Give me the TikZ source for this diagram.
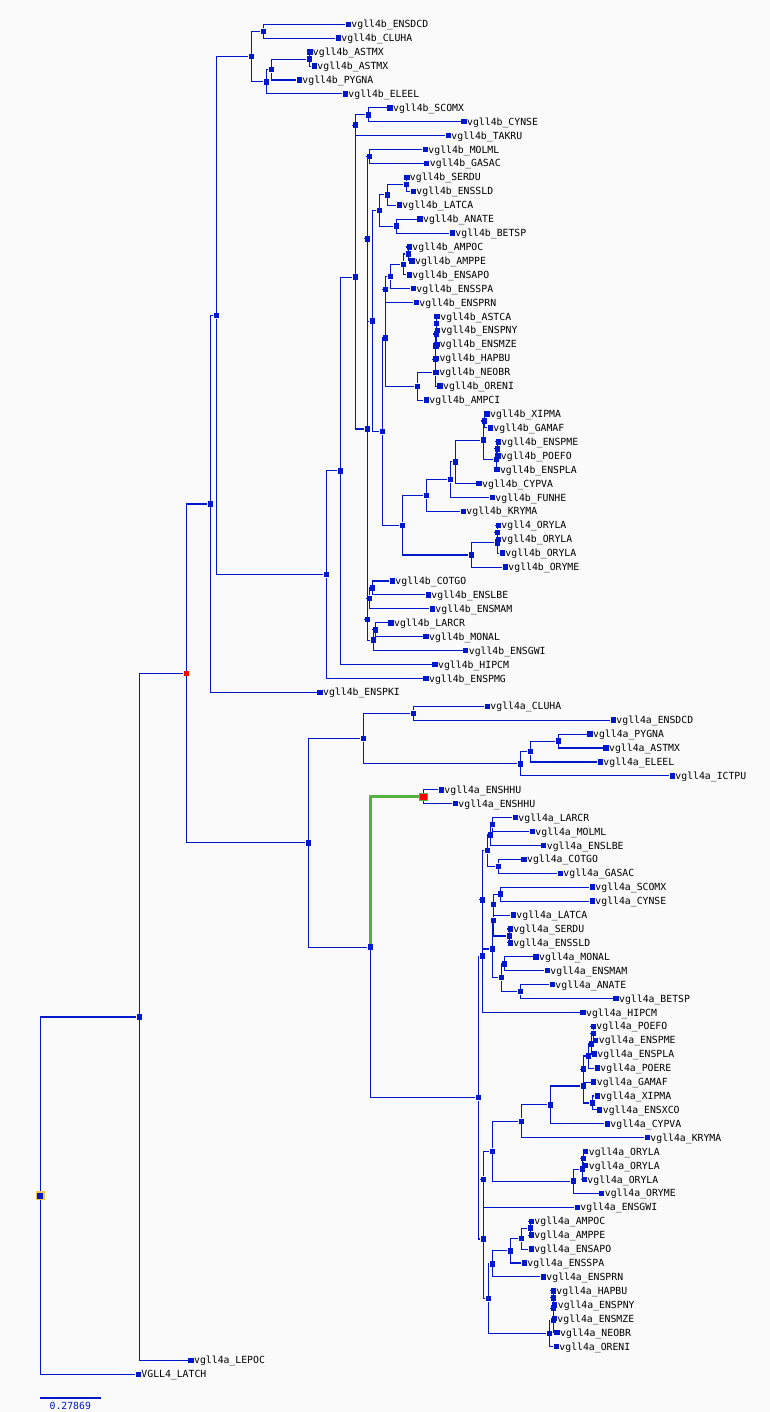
\documentclass[tikz,border=0pt]{standalone}
\usepackage{fontspec}
\newfontfamily\namefont{DejaVu Sans Mono}
\usepackage{tikz}
\definecolor{treeblue}{RGB}{0,24,204}
\definecolor{pickgreen}{RGB}{84,178,66}
\definecolor{rootgold}{RGB}{240,200,80}
\definecolor{paper}{RGB}{250,250,250}
\tikzstyle{Split} = [rectangle, minimum size = 5.5pt, inner sep = 0pt, fill = treeblue]
\tikzstyle{Leaf} = [Split, label distance = 4.3pt]
\tikzstyle{Hot} = [Split, fill = red]
\tikzstyle{Name} = [inner sep = 0pt, text height = 7pt, text depth = 0pt, text = black, font = {\namefont\fontsize{9.8pt}{10pt}\selectfont}]
\tikzstyle{Branch} = [treeblue, line width = 1.1pt]
\tikzstyle{Picked} = [pickgreen, line width = 3pt]

\begin{document}
\begin{tikzpicture}[x=1pt, y=-1pt]

    \fill[paper] (0,0) rectangle (770,1412);
    \useasboundingbox (0,0) rectangle (770,1412);

    %%%%%%%%%%%%%%%%%%%%%%
    % vgll4b leaves
    \node[Leaf, label={[Name]right:vgll4b\_ENSDCD}] (bENSDCD) at (348.3,24.3) {};
    \node[Leaf, label={[Name]right:vgll4b\_CLUHA}] (bCLUHA) at (338.3,38.2) {};
    \node[Leaf, label={[Name]right:vgll4b\_ASTMX}] (bASTMX) at (309.8,52.1) {};
    \node[Leaf, label={[Name]right:vgll4b\_ASTMX}] (bASTMXb) at (314.3,66.1) {};
    \node[Leaf, label={[Name]right:vgll4b\_PYGNA}] (bPYGNA) at (299.3,80.0) {};
    \node[Leaf, label={[Name]right:vgll4b\_ELEEL}] (bELEEL) at (345.3,93.9) {};
    \node[Leaf, label={[Name]right:vgll4b\_SCOMX}] (bSCOMX) at (390,107.8) {};
    \node[Leaf, label={[Name]right:vgll4b\_CYNSE}] (bCYNSE) at (464,121.7) {};
    \node[Leaf, label={[Name]right:vgll4b\_TAKRU}] (bTAKRU) at (448.3,135.6) {};
    \node[Leaf, label={[Name]right:vgll4b\_MOLML}] (bMOLML) at (425.3,149.6) {};
    \node[Leaf, label={[Name]right:vgll4b\_GASAC}] (bGASAC) at (426.7,163.5) {};
    \node[Leaf, label={[Name]right:vgll4b\_SERDU}] (bSERDU) at (406.8,177.4) {};
    \node[Leaf, label={[Name]right:vgll4b\_ENSSLD}] (bENSSLD) at (413.3,191.3) {};
    \node[Leaf, label={[Name]right:vgll4b\_LATCA}] (bLATCA) at (399.3,205.2) {};
    \node[Leaf, label={[Name]right:vgll4b\_ANATE}] (bANATE) at (420,219.2) {};
    \node[Leaf, label={[Name]right:vgll4b\_BETSP}] (bBETSP) at (452.3,233.1) {};
    \node[Leaf, label={[Name]right:vgll4b\_AMPOC}] (bAMPOC) at (409.3,247.0) {};
    \node[Leaf, label={[Name]right:vgll4b\_AMPPE}] (bAMPPE) at (412,260.9) {};
    \node[Leaf, label={[Name]right:vgll4b\_ENSAPO}] (bENSAPO) at (409.3,274.8) {};
    \node[Leaf, label={[Name]right:vgll4b\_ENSSPA}] (bENSSPA) at (413.3,288.7) {};
    \node[Leaf, label={[Name]right:vgll4b\_ENSPRN}] (bENSPRN) at (416.3,302.7) {};
    \node[Leaf, label={[Name]right:vgll4b\_ASTCA}] (bASTCA) at (437.2,316.6) {};
    \node[Leaf, label={[Name]right:vgll4b\_ENSPNY}] (bENSPNY) at (437.6,330.5) {};
    \node[Leaf, label={[Name]right:vgll4b\_ENSMZE}] (bENSMZE) at (436.8,344.4) {};
    \node[Leaf, label={[Name]right:vgll4b\_HAPBU}] (bHAPBU) at (436.4,358.3) {};
    \node[Leaf, label={[Name]right:vgll4b\_NEOBR}] (bNEOBR) at (436.2,372.3) {};
    \node[Leaf, label={[Name]right:vgll4b\_ORENI}] (bORENI) at (440,386.2) {};
    \node[Leaf, label={[Name]right:vgll4b\_AMPCI}] (bAMPCI) at (426.3,400.1) {};
    \node[Leaf, label={[Name]right:vgll4b\_XIPMA}] (bXIPMA) at (487,414.0) {};
    \node[Leaf, label={[Name]right:vgll4b\_GAMAF}] (bGAMAF) at (490.3,427.9) {};
    \node[Leaf, label={[Name]right:vgll4b\_ENSPME}] (bENSPME) at (498.3,441.8) {};
    \node[Leaf, label={[Name]right:vgll4b\_POEFO}] (bPOEFO) at (497.8,455.8) {};
    \node[Leaf, label={[Name]right:vgll4b\_ENSPLA}] (bENSPLA) at (496.9,469.7) {};
    \node[Leaf, label={[Name]right:vgll4b\_CYPVA}] (bCYPVA) at (479,483.6) {};
    \node[Leaf, label={[Name]right:vgll4b\_FUNHE}] (bFUNHE) at (492.3,497.5) {};
    \node[Leaf, label={[Name]right:vgll4b\_KRYMA}] (bKRYMA) at (463.3,511.4) {};
    \node[Leaf, label={[Name]right:vgll4\_ORYLA}] (bORYLA) at (498.3,525.4) {};
    \node[Leaf, label={[Name]right:vgll4b\_ORYLA}] (bORYLAb) at (498.3,539.3) {};
    \node[Leaf, label={[Name]right:vgll4b\_ORYLA}] (bORYLAc) at (502.3,553.2) {};
    \node[Leaf, label={[Name]right:vgll4b\_ORYME}] (bORYME) at (505.3,567.1) {};
    \node[Leaf, label={[Name]right:vgll4b\_COTGO}] (bCOTGO) at (392.3,581.0) {};
    \node[Leaf, label={[Name]right:vgll4b\_ENSLBE}] (bENSLBE) at (428.3,594.9) {};
    \node[Leaf, label={[Name]right:vgll4b\_ENSMAM}] (bENSMAM) at (432.3,608.9) {};
    \node[Leaf, label={[Name]right:vgll4b\_LARCR}] (bLARCR) at (391,622.8) {};
    \node[Leaf, label={[Name]right:vgll4b\_MONAL}] (bMONAL) at (426,636.7) {};
    \node[Leaf, label={[Name]right:vgll4b\_ENSGWI}] (bENSGWI) at (465.7,650.6) {};
    \node[Leaf, label={[Name]right:vgll4b\_HIPCM}] (bHIPCM) at (435,664.5) {};
    \node[Leaf, label={[Name]right:vgll4b\_ENSPMG}] (bENSPMG) at (426,678.5) {};
    \node[Leaf, label={[Name]right:vgll4b\_ENSPKI}] (bENSPKI) at (320,692.4) {};

    % vgll4b splits
    \node[Split] (bnDC) at (263.3,31.3) {};
    \node[Split] (bnAS) at (309.3,59.1) {};
    \node[Split] (bnASP) at (271.3,69.6) {};
    \node[Split] (bnASE) at (266.3,81.8) {};
    \node[Split] (bnTOP) at (251.4,56.5) {};
    \node[Split] (bnSC) at (368.3,114.8) {};
    \node[Split] (bnTAK) at (355.3,125.2) {};
    \node[Split] (bnMG) at (369.3,156.5) {};
    \node[Split] (bnSE) at (406.3,184.4) {};
    \node[Split] (bnSEL) at (387.3,194.8) {};
    \node[Split] (bnAN) at (396.3,226.1) {};
    \node[Split] (bnPERC) at (379.3,210.5) {};
    \node[Split] (bnAM) at (408.3,254.0) {};
    \node[Split] (bnAMA) at (403.3,264.4) {};
    \node[Split] (bnAMS) at (390.3,276.6) {};
    \node[Split] (bnAMR) at (385.3,289.6) {};
    \node[Split] (bnC1) at (436.7,323.5) {};
    \node[Split] (bnC2) at (436.3,334.0) {};
    \node[Split] (bnC3) at (435.8,346.2) {};
    \node[Split] (bnC4) at (435.4,359.2) {};
    \node[Split] (bnC5) at (435.3,372.7) {};
    \node[Split] (bnCICH) at (417.3,386.4) {};
    \node[Split] (bnACAN) at (385.3,338.0) {};
    \node[Split] (bnXG) at (484.3,421.0) {};
    \node[Split] (bnP1) at (497.3,448.8) {};
    \node[Split] (bnP2) at (496.4,459.3) {};
    \node[Split] (bnPXG) at (483.3,440.1) {};
    \node[Split] (bnCYP) at (455.3,461.9) {};
    \node[Split] (bnFUN) at (450.3,479.7) {};
    \node[Split] (bnKRY) at (426.3,495.6) {};
    \node[Split] (bnO1) at (497.3,532.3) {};
    \node[Split] (bnO2) at (497.3,542.8) {};
    \node[Split] (bnORY) at (471.3,555.0) {};
    \node[Split] (bnATH) at (402.3,525.3) {};
    \node[Split] (bnACATH) at (382.3,431.7) {};
    \node[Split] (bnPERCH) at (372.3,321.1) {};
    \node[Split] (bnMGP) at (367.4,238.8) {};
    \node[Split] (bnCL) at (372.3,588.0) {};
    \node[Split] (bnCLM) at (369.3,598.4) {};
    \node[Split] (bnLM) at (375.3,629.8) {};
    \node[Split] (bnLMG) at (373.3,640.2) {};
    \node[Split] (bnGAL) at (367.4,619.3) {};
    \node[Split] (bnMID) at (367.4,429.0) {};
    \node[Split] (bnPERC2) at (355.3,277.1) {};
    \node[Split] (bnHIP) at (340.3,470.8) {};
    \node[Split] (bnPMG) at (326.4,574.6) {};
    \node[Split] (bnB2) at (216.4,315.6) {};
    \node[Split] (bnB) at (210.4,504.0) {};

    \draw[Branch] (bnDC) |- (bENSDCD.west) (bnDC) |- (bCLUHA.west);
    \draw[Branch] (bnAS) |- (bASTMX.west) (bnAS) |- (bASTMXb.west);
    \draw[Branch] (bnASP) |- (bnAS.west) (bnASP) |- (bPYGNA.west);
    \draw[Branch] (bnASE) |- (bnASP.west) (bnASE) |- (bELEEL.west);
    \draw[Branch] (bnTOP) |- (bnDC.west) (bnTOP) |- (bnASE.west);
    \draw[Branch] (bnSC) |- (bSCOMX.west) (bnSC) |- (bCYNSE.west);
    \draw[Branch] (bnTAK) |- (bnSC.west) (bnTAK) |- (bTAKRU.west);
    \draw[Branch] (bnMG) |- (bMOLML.west) (bnMG) |- (bGASAC.west);
    \draw[Branch] (bnSE) |- (bSERDU.west) (bnSE) |- (bENSSLD.west);
    \draw[Branch] (bnSEL) |- (bnSE.west) (bnSEL) |- (bLATCA.west);
    \draw[Branch] (bnAN) |- (bANATE.west) (bnAN) |- (bBETSP.west);
    \draw[Branch] (bnPERC) |- (bnSEL.west) (bnPERC) |- (bnAN.west);
    \draw[Branch] (bnAM) |- (bAMPOC.west) (bnAM) |- (bAMPPE.west);
    \draw[Branch] (bnAMA) |- (bnAM.west) (bnAMA) |- (bENSAPO.west);
    \draw[Branch] (bnAMS) |- (bnAMA.west) (bnAMS) |- (bENSSPA.west);
    \draw[Branch] (bnAMR) |- (bnAMS.west) (bnAMR) |- (bENSPRN.west);
    \draw[Branch] (bnC1) |- (bASTCA.west) (bnC1) |- (bENSPNY.west);
    \draw[Branch] (bnC2) |- (bnC1.west) (bnC2) |- (bENSMZE.west);
    \draw[Branch] (bnC3) |- (bnC2.west) (bnC3) |- (bHAPBU.west);
    \draw[Branch] (bnC4) |- (bnC3.west) (bnC4) |- (bNEOBR.west);
    \draw[Branch] (bnC5) |- (bnC4.west) (bnC5) |- (bORENI.west);
    \draw[Branch] (bnCICH) |- (bnC5.west) (bnCICH) |- (bAMPCI.west);
    \draw[Branch] (bnACAN) |- (bnAMR.west) (bnACAN) |- (bnCICH.west);
    \draw[Branch] (bnXG) |- (bXIPMA.west) (bnXG) |- (bGAMAF.west);
    \draw[Branch] (bnP1) |- (bENSPME.west) (bnP1) |- (bPOEFO.west);
    \draw[Branch] (bnP2) |- (bnP1.west) (bnP2) |- (bENSPLA.west);
    \draw[Branch] (bnPXG) |- (bnXG.west) (bnPXG) |- (bnP2.west);
    \draw[Branch] (bnCYP) |- (bnPXG.west) (bnCYP) |- (bCYPVA.west);
    \draw[Branch] (bnFUN) |- (bnCYP.west) (bnFUN) |- (bFUNHE.west);
    \draw[Branch] (bnKRY) |- (bnFUN.west) (bnKRY) |- (bKRYMA.west);
    \draw[Branch] (bnO1) |- (bORYLA.west) (bnO1) |- (bORYLAb.west);
    \draw[Branch] (bnO2) |- (bnO1.west) (bnO2) |- (bORYLAc.west);
    \draw[Branch] (bnORY) |- (bnO2.west) (bnORY) |- (bORYME.west);
    \draw[Branch] (bnATH) |- (bnKRY.west) (bnATH) |- (bnORY.west);
    \draw[Branch] (bnACATH) |- (bnACAN.west) (bnACATH) |- (bnATH.west);
    \draw[Branch] (bnPERCH) |- (bnPERC.west) (bnPERCH) |- (bnACATH.west);
    \draw[Branch] (bnMGP) |- (bnMG.west) (bnMGP) |- (bnPERCH.west);
    \draw[Branch] (bnCL) |- (bCOTGO.west) (bnCL) |- (bENSLBE.west);
    \draw[Branch] (bnCLM) |- (bnCL.west) (bnCLM) |- (bENSMAM.west);
    \draw[Branch] (bnLM) |- (bLARCR.west) (bnLM) |- (bMONAL.west);
    \draw[Branch] (bnLMG) |- (bnLM.west) (bnLMG) |- (bENSGWI.west);
    \draw[Branch] (bnGAL) |- (bnCLM.west) (bnGAL) |- (bnLMG.west);
    \draw[Branch] (bnMID) |- (bnMGP.west) (bnMID) |- (bnGAL.west);
    \draw[Branch] (bnPERC2) |- (bnTAK.west) (bnPERC2) |- (bnMID.west);
    \draw[Branch] (bnHIP) |- (bnPERC2.west) (bnHIP) |- (bHIPCM.west);
    \draw[Branch] (bnPMG) |- (bnHIP.west) (bnPMG) |- (bENSPMG.west);
    \draw[Branch] (bnB2) |- (bnTOP.west) (bnB2) |- (bnPMG.west);
    \draw[Branch] (bnB) |- (bnB2.west) (bnB) |- (bENSPKI.west);

    %%%%%%%%%%%%%%%%%%%%%%
    % vgll4a leaves
    \node[Leaf, label={[Name]right:vgll4a\_CLUHA}] (aCLUHA) at (487.3,706.3) {};
    \node[Leaf, label={[Name]right:vgll4a\_ENSDCD}] (aENSDCD) at (613.3,720.2) {};
    \node[Leaf, label={[Name]right:vgll4a\_PYGNA}] (aPYGNA) at (590,734.1) {};
    \node[Leaf, label={[Name]right:vgll4a\_ASTMX}] (aASTMX) at (606,748.0) {};
    \node[Leaf, label={[Name]right:vgll4a\_ELEEL}] (aELEEL) at (600.3,762.0) {};
    \node[Leaf, label={[Name]right:vgll4a\_ICTPU}] (aICTPU) at (672.3,775.9) {};
    \node[Leaf, label={[Name]right:vgll4a\_ENSHHU}] (aENSHHU) at (441.3,789.8) {};
    \node[Leaf, label={[Name]right:vgll4a\_ENSHHU}] (aENSHHUb) at (455.3,803.7) {};
    \node[Leaf, label={[Name]right:vgll4a\_LARCR}] (aLARCR) at (515.3,817.6) {};
    \node[Leaf, label={[Name]right:vgll4a\_MOLML}] (aMOLML) at (532.3,831.5) {};
    \node[Leaf, label={[Name]right:vgll4a\_ENSLBE}] (aENSLBE) at (543.7,845.5) {};
    \node[Leaf, label={[Name]right:vgll4a\_COTGO}] (aCOTGO) at (524,859.4) {};
    \node[Leaf, label={[Name]right:vgll4a\_GASAC}] (aGASAC) at (560.3,873.3) {};
    \node[Leaf, label={[Name]right:vgll4a\_SCOMX}] (aSCOMX) at (592.3,887.2) {};
    \node[Leaf, label={[Name]right:vgll4a\_CYNSE}] (aCYNSE) at (592.3,901.1) {};
    \node[Leaf, label={[Name]right:vgll4a\_LATCA}] (aLATCA) at (513.3,915.1) {};
    \node[Leaf, label={[Name]right:vgll4a\_SERDU}] (aSERDU) at (510.3,929.0) {};
    \node[Leaf, label={[Name]right:vgll4a\_ENSSLD}] (aENSSLD) at (510.3,942.9) {};
    \node[Leaf, label={[Name]right:vgll4a\_MONAL}] (aMONAL) at (536,956.8) {};
    \node[Leaf, label={[Name]right:vgll4a\_ENSMAM}] (aENSMAM) at (547.3,970.7) {};
    \node[Leaf, label={[Name]right:vgll4a\_ANATE}] (aANATE) at (552.3,984.6) {};
    \node[Leaf, label={[Name]right:vgll4a\_BETSP}] (aBETSP) at (616,998.6) {};
    \node[Leaf, label={[Name]right:vgll4a\_HIPCM}] (aHIPCM) at (583,1012.5) {};
    \node[Leaf, label={[Name]right:vgll4a\_POEFO}] (aPOEFO) at (593.3,1026.4) {};
    \node[Leaf, label={[Name]right:vgll4a\_ENSPME}] (aENSPME) at (595.7,1040.3) {};
    \node[Leaf, label={[Name]right:vgll4a\_ENSPLA}] (aENSPLA) at (594.3,1054.2) {};
    \node[Leaf, label={[Name]right:vgll4a\_POERE}] (aPOERE) at (597.3,1068.2) {};
    \node[Leaf, label={[Name]right:vgll4a\_GAMAF}] (aGAMAF) at (593.7,1082.1) {};
    \node[Leaf, label={[Name]right:vgll4a\_XIPMA}] (aXIPMA) at (597.3,1096.0) {};
    \node[Leaf, label={[Name]right:vgll4a\_ENSXCO}] (aENSXCO) at (599.7,1109.9) {};
    \node[Leaf, label={[Name]right:vgll4a\_CYPVA}] (aCYPVA) at (607.3,1123.8) {};
    \node[Leaf, label={[Name]right:vgll4a\_KRYMA}] (aKRYMA) at (647.3,1137.7) {};
    \node[Leaf, label={[Name]right:vgll4a\_ORYLA}] (aORYLA) at (585.7,1151.7) {};
    \node[Leaf, label={[Name]right:vgll4a\_ORYLA}] (aORYLAb) at (585.7,1165.6) {};
    \node[Leaf, label={[Name]right:vgll4a\_ORYLA}] (aORYLAc) at (584.3,1179.5) {};
    \node[Leaf, label={[Name]right:vgll4a\_ORYME}] (aORYME) at (601.7,1193.4) {};
    \node[Leaf, label={[Name]right:vgll4a\_ENSGWI}] (aENSGWI) at (577.3,1207.3) {};
    \node[Leaf, label={[Name]right:vgll4a\_AMPOC}] (aAMPOC) at (531.3,1221.3) {};
    \node[Leaf, label={[Name]right:vgll4a\_AMPPE}] (aAMPPE) at (531.3,1235.2) {};
    \node[Leaf, label={[Name]right:vgll4a\_ENSAPO}] (aENSAPO) at (531.3,1249.1) {};
    \node[Leaf, label={[Name]right:vgll4a\_ENSSPA}] (aENSSPA) at (524.3,1263.0) {};
    \node[Leaf, label={[Name]right:vgll4a\_ENSPRN}] (aENSPRN) at (543.3,1276.9) {};
    \node[Leaf, label={[Name]right:vgll4a\_HAPBU}] (aHAPBU) at (553.3,1290.8) {};
    \node[Leaf, label={[Name]right:vgll4a\_ENSPNY}] (aENSPNY) at (554.7,1304.8) {};
    \node[Leaf, label={[Name]right:vgll4a\_ENSMZE}] (aENSMZE) at (554.3,1318.7) {};
    \node[Leaf, label={[Name]right:vgll4a\_NEOBR}] (aNEOBR) at (557,1332.6) {};
    \node[Leaf, label={[Name]right:vgll4a\_ORENI}] (aORENI) at (556.3,1346.5) {};
    \node[Leaf, label={[Name]right:vgll4a\_LEPOC}] (aLEPOC) at (191,1360.4) {};
    \node[Leaf, label={[Name]right:VGLL4\_LATCH}] (LATCH) at (138.3,1374.4) {};

    % vgll4a splits
    \node[Split] (anCD) at (413.3,713.3) {};
    \node[Split] (anPA) at (558.3,741.1) {};
    \node[Split] (anPAE) at (530.4,751.6) {};
    \node[Split] (anPAI) at (520.4,763.8) {};
    \node[Split] (anUP) at (363.3,738.6) {};
    \node[Hot, draw = pickgreen, line width = 1pt, minimum size = 7.5pt] (anHHU) at (423.3,796.8) {};
    \node[Split] (anLM) at (492.7,824.6) {};
    \node[Split] (anLML) at (490.3,835.0) {};
    \node[Split] (anCG) at (498.3,866.4) {};
    \node[Split] (anLC) at (487.3,850.7) {};
    \node[Split] (anSC) at (500.7,894.2) {};
    \node[Split] (anSCL) at (493.7,904.6) {};
    \node[Split] (anSE) at (509.3,936.0) {};
    \node[Split] (anSCS) at (493.7,920.3) {};
    \node[Split] (anMM) at (504.4,963.8) {};
    \node[Split] (anAB) at (520.3,991.6) {};
    \node[Split] (anMAB) at (501.3,977.7) {};
    \node[Split] (anPERC) at (492.3,949.0) {};
    \node[Split] (anPERC2) at (482.3,899.9) {};
    \node[Split] (anHIP) at (482.3,956.2) {};
    \node[Split] (anP1) at (593.3,1033.4) {};
    \node[Split] (anP2) at (591.4,1043.8) {};
    \node[Split] (anP3) at (588.7,1056.0) {};
    \node[Split] (anP4) at (583.3,1069.1) {};
    \node[Split] (anXE) at (592.3,1103.0) {};
    \node[Split] (anPX) at (583.3,1086.0) {};
    \node[Split] (anCYP) at (550.3,1104.9) {};
    \node[Split] (anKRY) at (521.3,1121.3) {};
    \node[Split] (anO1) at (583.3,1158.6) {};
    \node[Split] (anO2) at (582.3,1169.1) {};
    \node[Split] (anORY) at (573.3,1181.2) {};
    \node[Split] (anATH) at (492.3,1151.3) {};
    \node[Split] (anGWI) at (483.3,1179.3) {};
    \node[Split] (anAM) at (530.3,1228.2) {};
    \node[Split] (anAMA) at (521.3,1238.7) {};
    \node[Split] (anAMS) at (510.4,1250.8) {};
    \node[Split] (anAMR) at (492.3,1263.9) {};
    \node[Split] (anC1) at (553.3,1297.8) {};
    \node[Split] (anC2) at (553.3,1308.2) {};
    \node[Split] (anC3) at (553.3,1320.4) {};
    \node[Split] (anC4) at (549.3,1333.5) {};
    \node[Split] (anCICH) at (488.3,1298.7) {};
    \node[Split] (anLOW) at (483.3,1239.0) {};
    \node[Split] (anMAIN) at (478.3,1097.6) {};
    \node[Split] (anSEL) at (370.3,947.2) {};
    \node[Split] (anA) at (308.3,842.9) {};

    \draw[Branch] (anCD) |- (aCLUHA.west) (anCD) |- (aENSDCD.west);
    \draw[Branch] (anPA) |- (aPYGNA.west) (anPA) |- (aASTMX.west);
    \draw[Branch] (anPAE) |- (anPA.west) (anPAE) |- (aELEEL.west);
    \draw[Branch] (anPAI) |- (anPAE.west) (anPAI) |- (aICTPU.west);
    \draw[Branch] (anUP) |- (anCD.west) (anUP) |- (anPAI.west);
    \draw[Branch] (anHHU) |- (aENSHHU.west) (anHHU) |- (aENSHHUb.west);
    \draw[Branch] (anLM) |- (aLARCR.west) (anLM) |- (aMOLML.west);
    \draw[Branch] (anLML) |- (anLM.west) (anLML) |- (aENSLBE.west);
    \draw[Branch] (anCG) |- (aCOTGO.west) (anCG) |- (aGASAC.west);
    \draw[Branch] (anLC) |- (anLML.west) (anLC) |- (anCG.west);
    \draw[Branch] (anSC) |- (aSCOMX.west) (anSC) |- (aCYNSE.west);
    \draw[Branch] (anSCL) |- (anSC.west) (anSCL) |- (aLATCA.west);
    \draw[Branch] (anSE) |- (aSERDU.west) (anSE) |- (aENSSLD.west);
    \draw[Branch] (anSCS) |- (anSCL.west) (anSCS) |- (anSE.west);
    \draw[Branch] (anMM) |- (aMONAL.west) (anMM) |- (aENSMAM.west);
    \draw[Branch] (anAB) |- (aANATE.west) (anAB) |- (aBETSP.west);
    \draw[Branch] (anMAB) |- (anMM.west) (anMAB) |- (anAB.west);
    \draw[Branch] (anPERC) |- (anSCS.west) (anPERC) |- (anMAB.west);
    \draw[Branch] (anPERC2) |- (anLC.west) (anPERC2) |- (anPERC.west);
    \draw[Branch] (anHIP) |- (anPERC2.west) (anHIP) |- (aHIPCM.west);
    \draw[Branch] (anP1) |- (aPOEFO.west) (anP1) |- (aENSPME.west);
    \draw[Branch] (anP2) |- (anP1.west) (anP2) |- (aENSPLA.west);
    \draw[Branch] (anP3) |- (anP2.west) (anP3) |- (aPOERE.west);
    \draw[Branch] (anP4) |- (anP3.west) (anP4) |- (aGAMAF.west);
    \draw[Branch] (anXE) |- (aXIPMA.west) (anXE) |- (aENSXCO.west);
    \draw[Branch] (anPX) |- (anP4.west) (anPX) |- (anXE.west);
    \draw[Branch] (anCYP) |- (anPX.west) (anCYP) |- (aCYPVA.west);
    \draw[Branch] (anKRY) |- (anCYP.west) (anKRY) |- (aKRYMA.west);
    \draw[Branch] (anO1) |- (aORYLA.west) (anO1) |- (aORYLAb.west);
    \draw[Branch] (anO2) |- (anO1.west) (anO2) |- (aORYLAc.west);
    \draw[Branch] (anORY) |- (anO2.west) (anORY) |- (aORYME.west);
    \draw[Branch] (anATH) |- (anKRY.west) (anATH) |- (anORY.west);
    \draw[Branch] (anGWI) |- (anATH.west) (anGWI) |- (aENSGWI.west);
    \draw[Branch] (anAM) |- (aAMPOC.west) (anAM) |- (aAMPPE.west);
    \draw[Branch] (anAMA) |- (anAM.west) (anAMA) |- (aENSAPO.west);
    \draw[Branch] (anAMS) |- (anAMA.west) (anAMS) |- (aENSSPA.west);
    \draw[Branch] (anAMR) |- (anAMS.west) (anAMR) |- (aENSPRN.west);
    \draw[Branch] (anC1) |- (aHAPBU.west) (anC1) |- (aENSPNY.west);
    \draw[Branch] (anC2) |- (anC1.west) (anC2) |- (aENSMZE.west);
    \draw[Branch] (anC3) |- (anC2.west) (anC3) |- (aNEOBR.west);
    \draw[Branch] (anC4) |- (anC3.west) (anC4) |- (aORENI.west);
    \draw[Branch] (anCICH) |- (anAMR.west) (anCICH) |- (anC4.west);
    \draw[Branch] (anLOW) |- (anGWI.west) (anLOW) |- (anCICH.west);
    \draw[Branch] (anMAIN) |- (anHIP.west) (anMAIN) |- (anLOW.west);
    \draw[Picked] (anSEL) |- (anHHU.west);
    \draw[Branch] (anSEL) |- (anMAIN.west);
    \draw[Branch] (anA) |- (anUP.west) (anA) |- (anSEL.west);

    %%%%%%%%%%%%%%%%%%%%%%
    % deep splits and root
    \node[Hot] (nRED) at (186.4,673.5) {};
    \node[Split] (nFISH) at (139.4,1017.0) {};
    \node[Split, draw = rootgold, line width = 1.6pt, minimum size = 7.4pt] (root) at (40.3,1195.7) {};

    \draw[Branch] (nRED) |- (bnB.west) (nRED) |- (anA.west);
    \draw[Branch] (nFISH) |- (nRED.west) (nFISH) |- (aLEPOC.west);
    \draw[Branch] (root) |- (nFISH.west) (root) |- (LATCH.west);

    % scale bar
    \coordinate (bar0) at (40,1397.7);
    \coordinate (bar1) at (100.7,1397.7);
    \draw[treeblue, line width = 2pt] (bar0) -- (bar1);
    \node[Name, text = treeblue] (barval) at (70.3,1406.3) {0.27869};

\end{tikzpicture}
\end{document}
